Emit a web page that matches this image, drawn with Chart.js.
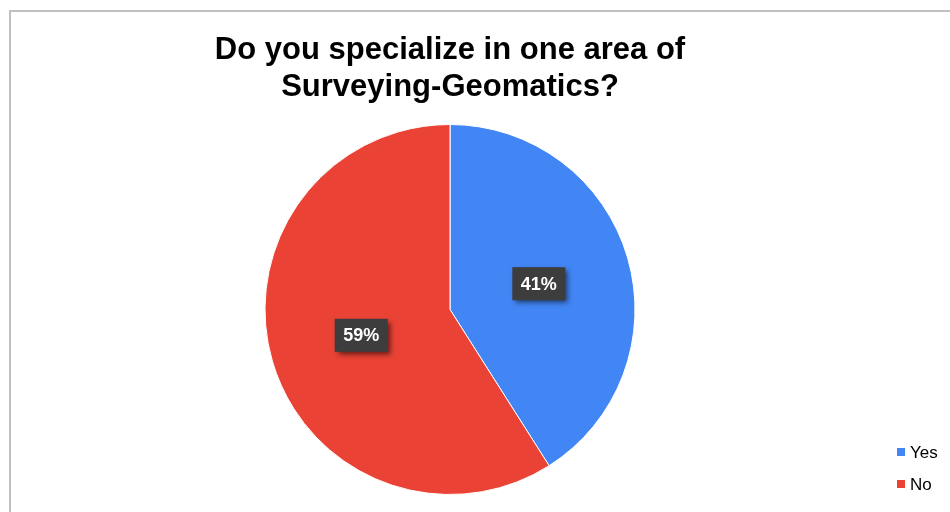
<!DOCTYPE html>
<html>
<head>
<meta charset="utf-8">
<script src="https://cdn.jsdelivr.net/npm/chart.js@4"></script>
<style>
  body { margin: 0; background: #fff; }
  #wrap { position: relative; width: 950px; height: 512px; overflow: hidden; }
  #frame { position: absolute; left: 9px; top: 10px; width: 960px; height: 520px;
           border-top: 2px solid #c0c0c0; border-left: 2px solid #c0c0c0; }
  canvas { position: absolute; left: 0; top: 0; }
</style>
</head>
<body>
<div id="wrap">
  <canvas id="chartSpecialize" width="950" height="512"></canvas>
  <div id="frame"></div>
</div>
<script>
const titleLines = ['Do you specialize in one area of', 'Surveying-Geomatics?'];
const answers = ['Yes', 'No'];
const shares = [41, 59];
const sliceColors = ['#4285F4', '#EA4335'];

const FONT = '"Liberation Sans", Arial, sans-serif';

// dark boxed percentage labels, drawn at each arc's own tooltip position
const boxLabels = {
    id: 'boxLabels',
    afterDatasetsDraw(chart) {
        const ctx = chart.ctx;
        const meta = chart.getDatasetMeta(0);
        ctx.save();
        ctx.font = 'bold 18px ' + FONT;
        ctx.textAlign = 'center';
        ctx.textBaseline = 'middle';
        meta.data.forEach((arc, i) => {
            const p = arc.tooltipPosition();
            const w = 53, h = 33;
            ctx.save();
            ctx.shadowColor = 'rgba(0,0,0,0.55)';
            ctx.shadowBlur = 5;
            ctx.shadowOffsetX = 3;
            ctx.shadowOffsetY = 3;
            ctx.fillStyle = '#3d3d3d';
            ctx.fillRect(p.x - w / 2, p.y - h / 2, w, h);
            ctx.restore();
            ctx.fillStyle = '#ffffff';
            ctx.fillText(shares[i] + '%', p.x, p.y + 1);
        });
        ctx.restore();
    }
};

// small legend in the bottom-right corner, outside the layout
const cornerLegend = {
    id: 'cornerLegend',
    afterDraw(chart) {
        const ctx = chart.ctx;
        ctx.save();
        ctx.font = '17px ' + FONT;
        ctx.textBaseline = 'middle';
        ctx.fillStyle = '#000';
        answers.forEach((a, i) => {
            const y = 452 + i * 32;
            ctx.fillStyle = sliceColors[i];
            ctx.fillRect(897, y - 4, 8, 8);
            ctx.fillStyle = '#000000';
            ctx.fillText(a, 910, y + 1);
        });
        ctx.restore();
    }
};

const ctxSpec = document.getElementById('chartSpecialize');
const chartSpec = new Chart(ctxSpec, {
    type: 'pie',
    data: {
        labels: answers,
        datasets: [{
            data: shares,
            backgroundColor: sliceColors,
            borderColor: '#ffffff',
            borderWidth: 1
        }]
    },
    options: {
        responsive: false,
        animation: false,
        layout: {
            padding: { left: 0, right: 50, top: 0, bottom: 17 }
        },
        plugins: {
            title: {
                display: true,
                text: titleLines,
                color: '#000000',
                font: { family: FONT, size: 31, weight: 'bold', lineHeight: '37px' },
                padding: { top: 32, bottom: 18 }
            },
            legend: { display: false },
            tooltip: { enabled: false }
        }
    },
    plugins: [boxLabels, cornerLegend]
});
</script>
</body>
</html>
